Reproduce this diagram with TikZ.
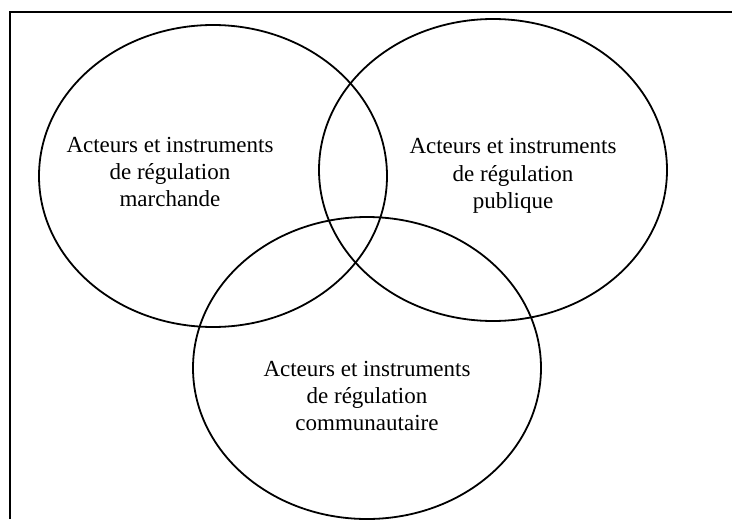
\documentclass[tikz,border=0pt]{standalone}
\usepackage{fontspec}
\setmainfont{Liberation Serif}
\usetikzlibrary{shapes.geometric}

\begin{document}
\begin{tikzpicture}[x=0.5pt,y=-0.5pt,
    venn/.style={draw,ellipse,line width=0.9pt,inner sep=0pt,
      minimum width=174pt,minimum height=151pt},
    lab/.style={font=\fontsize{11.5}{13.6}\selectfont,align=center}]
  \useasboundingbox (0,0) rectangle (732,519);
  % --- frame (left and top edges only) ---
  \draw[line width=1.2pt] (10,519) -- (10,12) -- (732,12);
  % --- the three sets ---
  \node[venn] (marchande) at (213,176) {};
  \node[venn] (publique) at (493,170) {};
  \node[venn] (communaute) at (367,368) {};
  % --- labels ---
  \node[lab] (labM) at (170,172) {Acteurs et instruments\\de régulation\\marchande};
  \node[lab] (labP) at (513,176) {Acteurs et instruments\\de régulation\\publique};
  \node[lab] (labC) at (367,396) {Acteurs et instruments\\de régulation\\communautaire};
\end{tikzpicture}
\end{document}
